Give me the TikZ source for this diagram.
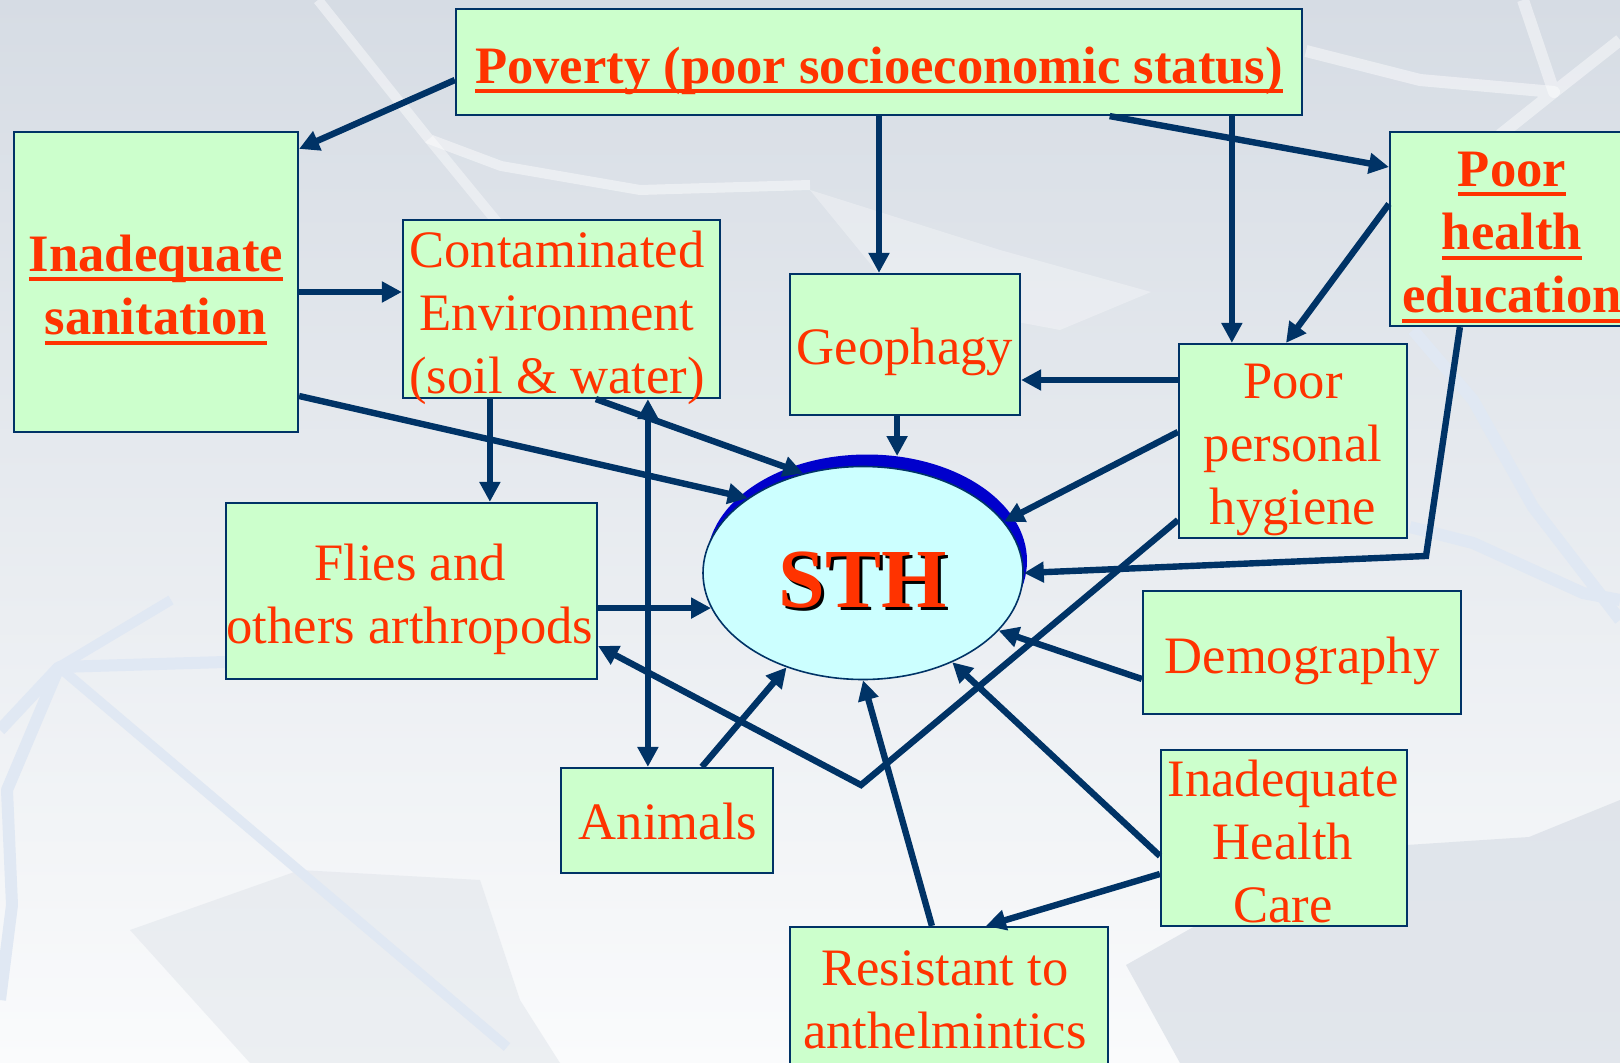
\documentclass[tikz,border=0pt]{standalone}
\usepackage{fontspec}
\setmainfont{Liberation Serif}
\usetikzlibrary{arrows.meta,calc,shapes.geometric}
\definecolor{tred}{HTML}{FF3300}
\definecolor{boxg}{HTML}{CCFFCC}
\definecolor{navy}{HTML}{003366}
\definecolor{ellc}{HTML}{CCFFFF}
\definecolor{ellb}{HTML}{0000CC}
\definecolor{bgtop}{HTML}{D6DCE4}
\definecolor{bgbot}{HTML}{FAFBFC}
\definecolor{streak}{HTML}{E0E8F3}
\definecolor{greyp}{HTML}{DCE1E8}
\newcommand\ulx[1]{\leavevmode\setbox0\hbox{#1}\rlap{\rule[-5pt]{\wd0}{2pt}}\box0}
\newcommand\txtfont{\fontsize{26.3}{31.6}\selectfont}
\begin{document}
\begin{tikzpicture}[x=0.5pt,y=-0.5pt,
  >={Triangle[length=10pt,width=10pt]},
  box/.style={draw=navy, line width=1.1pt, fill=boxg, rectangle, inner sep=0pt},
  lbl/.style={anchor=north, inner sep=0pt, align=center, font=\txtfont, text=tred},
  arr/.style={draw=navy, line width=3.2pt, ->},
  darr/.style={draw=navy, line width=3.2pt, <->},
]
\useasboundingbox (0,0) rectangle (1620,1063);
\clip (0,0) rectangle (1620,1063);
% background
\fill[top color=bgtop, bottom color=bgbot] (0,0) rectangle (1620,1063);
\fill[white, opacity=0.3] (810,190) -- (1000,250) -- (1151,292) -- (1060,330) -- (900,300) -- cycle;
\draw[white, opacity=0.45, line width=5pt, line join=round] (318,0) -- (429,139) -- (501,166) -- (640,190) -- (810,185);
\draw[white, opacity=0.4, line width=5pt, line join=round] (429,139) -- (520,250) -- (560,300);
\draw[white, opacity=0.45, line width=6pt, line join=round] (1306,51) -- (1420,80) -- (1554,92) -- (1500,135);
\draw[white, opacity=0.45, line width=6pt, line join=round] (1523,0) -- (1554,92) -- (1620,40);
\fill[greyp, opacity=0.8] (1126,965) -- (1330,850) -- (1529,837) -- (1620,800) -- (1620,1063) -- (1180,1063) -- cycle;
\fill[greyp, opacity=0.45] (130,930) -- (300,870) -- (480,880) -- (520,1000) -- (560,1063) -- (250,1063) -- cycle;
\draw[streak, line width=6pt, line join=round] (0,730) -- (59,667) -- (225,662);
\draw[streak, line width=6pt, line join=round] (59,667) -- (7,790) -- (12,905) -- (0,1000);
\draw[streak, line width=5pt] (59,667) -- (507,1047);
\draw[streak, line width=5pt] (59,667) -- (171,600);
\draw[streak, line width=6pt, line join=round] (1413,330) -- (1473,400) -- (1533,507) -- (1620,620);
\draw[streak, line width=6pt, line join=round] (1410,527) -- (1473,543) -- (1583,593) -- (1620,600);

% STH ellipse
\node[ellipse, fill=ellb, minimum width=160pt, minimum height=106.5pt, inner sep=0pt] (sthb) at (867,561) {};
\node[ellipse, draw=navy, line width=0.8pt, fill=ellc, minimum width=160pt, minimum height=106.5pt, inner sep=0pt] (sth) at (863,573) {};
\node[anchor=base, inner sep=0pt, font=\fontsize{42}{50}\selectfont\bfseries, text=black] (sths) at (866,610) {STH};
\node[anchor=base, inner sep=0pt, font=\fontsize{42}{50}\selectfont\bfseries, text=tred] (stht) at (863,607) {STH};

% boxes
\node[box, minimum width=423pt, minimum height=53pt] (pov) at (879,62) {};
\node[box, minimum width=142pt, minimum height=150pt] (san) at (156,282) {};
\node[box, minimum width=158.5pt, minimum height=89pt] (env) at (561.5,309) {};
\node[box, minimum width=115pt, minimum height=70.5pt] (geo) at (905,344.5) {};
\node[box, minimum width=135pt, minimum height=97pt] (phe) at (1525,229) {};
\node[box, minimum width=114pt, minimum height=97pt] (hyg) at (1293,441) {};
\node[box, minimum width=185.5pt, minimum height=88pt] (fly) at (411.5,591) {};
\node[box, minimum width=106pt, minimum height=52.5pt] (ani) at (667,820.5) {};
\node[box, minimum width=159pt, minimum height=86pt] (res) at (949,1013) {};
\node[box, minimum width=159pt, minimum height=61.5pt] (dem) at (1302,652.5) {};
\node[box, minimum width=123pt, minimum height=88pt] (ihc) at (1284,838) {};

% texts
\node[lbl, font=\txtfont\bfseries] (tpov) at (879,38.8) {\strut\ulx{Poverty (poor socioeconomic status)}};
\node[lbl, font=\txtfont\bfseries] (tsan) at (156,226.8) {\strut\ulx{Inadequate}\\\strut\ulx{sanitation}};
\node[lbl] (tenv) at (557,222.8) {\strut Contaminated\\\strut Environment\\\strut(soil \& water)};
\node[lbl] (tgeo) at (905,319.8) {\strut Geophagy};
\node[lbl, font=\txtfont\bfseries] (tphe) at (1512,141.8) {\strut\ulx{Poor}\\\strut\ulx{health}\\\strut\ulx{education}};
\node[lbl] (thyg) at (1293,353.8) {\strut Poor\\\strut personal\\\strut hygiene};
\node[lbl] (tfly) at (410,535.8) {\strut Flies and\\\strut others arthropods};
\node[lbl] (tani) at (668,794.8) {\strut Animals};
\node[lbl] (tres) at (945,940.8) {\strut Resistant to\\\strut anthelmintics};
\node[lbl] (tdem) at (1302,628.8) {\strut Demography};
\node[lbl] (tihc) at (1283,751.8) {\strut Inadequate\\\strut Health\\\strut Care};

% connectors
\coordinate (bend1) at (1426,556);
\coordinate (bend2) at (861,785);
\draw[arr] ($(pov.west)+(0,18)$) -- ($(san.north east)+(0,18)$);
\draw[arr] (pov.south) -- (pov.south |- geo.north);
\draw[arr] ($(pov.south west)!0.772!(pov.south east)$) -- ($(phe.west)+(0,-62)$);
\draw[arr] ($(pov.south west)!0.916!(pov.south east)$) coordinate (p4) -- (p4 |- hyg.north);
\draw[arr] ($(phe.west)+(0,-25)$) -- ($(hyg.north)+(-7,0)$);
\draw[arr, line join=miter] ($(phe.south west)+(71,0)$) -- (bend1) -- (sth.east);
\draw[arr] ($(san.east)+(0,10)$) coordinate (a1) -- (a1 -| env.west);
\draw[arr] ($(san.east)+(0,114)$) -- (sth.147.3);
\draw[arr] ($(env.south west)+(88,0)$) coordinate (a2) -- (a2 |- fly.north);
\draw[arr] ($(env.south west)+(194,0)$) -- (sth.121.8);
\draw[darr] ($(ani.north west)+(88,0)$) coordinate (a3) -- (a3 |- env.south);
\draw[arr] (fly.east |- sth.193.9) -- (sth.193.9);
\draw[arr] (sthb.74 |- geo.south) -- (sthb.74);
\draw[arr] ($(hyg.west)+(0,-61)$) coordinate (a4) -- (a4 -| geo.east);
\draw[arr] ($(hyg.west)+(0,-9)$) -- (sth.20.9);
\draw[arr, line join=miter] ($(hyg.west)+(0,79)$) -- (bend2) -- ($(fly.east)+(0,55)$);
\draw[arr] ($(ani.north west)+(142,0)$) -- (sth.231.3);
\draw[arr] ($(dem.west)+(0,26.5)$) -- (sth.-23.5);
\draw[arr] ($(ihc.west)+(0,18)$) -- (sth.-45.3);
\draw[arr] ($(ihc.west)+(0,36)$) -- ($(res.north west)+(197,0)$);
\draw[arr] ($(res.north west)+(143,0)$) -- (sth.south);
\end{tikzpicture}
\end{document}
